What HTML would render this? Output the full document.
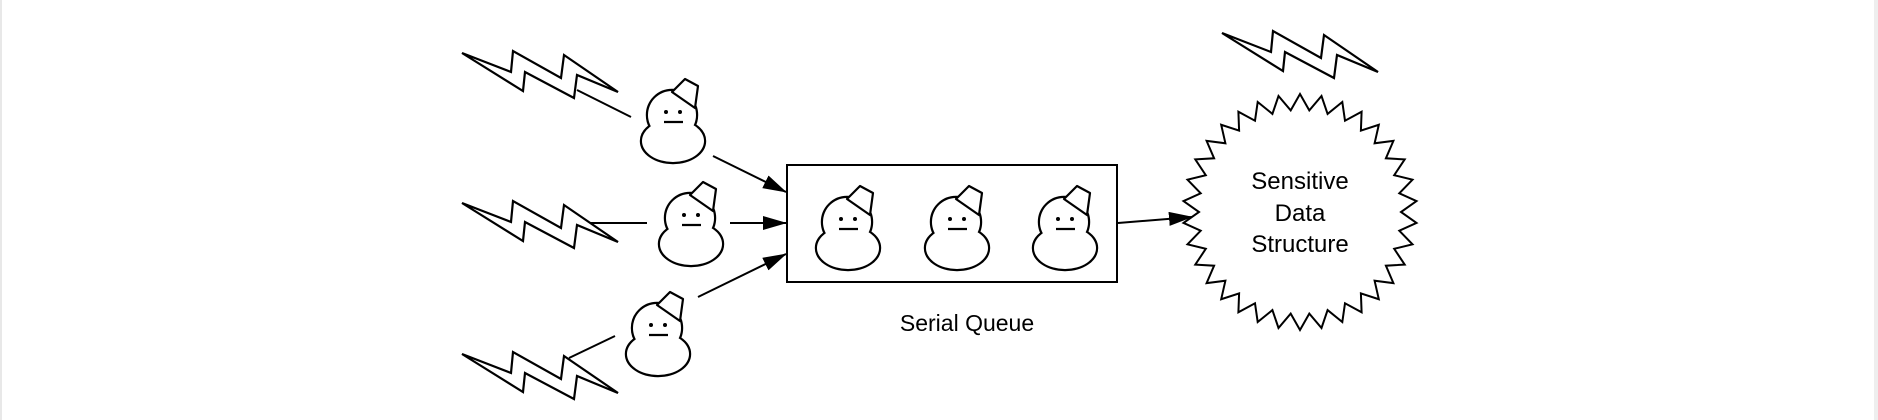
<!DOCTYPE html>
<html><head><meta charset="utf-8"><style>
html,body{margin:0;padding:0;background:#fff;}
svg{display:block;}
text{font-family:"Liberation Sans",Arial,sans-serif;fill:#000;}
</style></head><body>
<svg width="1878" height="420" viewBox="0 0 1878 420" xmlns="http://www.w3.org/2000/svg">
<defs>
<g id="sm">
  <g stroke="#000" stroke-width="4.4" fill="#fff">
    <ellipse cx="1" cy="26" rx="31" ry="21"/>
    <circle cx="0" cy="0" r="24"/>
  </g>
  <g fill="#fff" stroke="none">
    <ellipse cx="1" cy="26" rx="31" ry="21"/>
    <circle cx="0" cy="0" r="24"/>
  </g>
  <polygon points="0,-23 13,-36 26,-29 23,-7" fill="#fff" stroke="#000" stroke-width="2.2" stroke-linejoin="round"/>
  <circle cx="-6" cy="-3" r="2" fill="#000"/>
  <circle cx="8" cy="-3" r="2" fill="#000"/>
  <line x1="-8" y1="7" x2="11" y2="7" stroke="#000" stroke-width="2.2"/>
</g>
<polygon id="bolt" points="0,0 49,19 51,-2 99,25 102,2 156,39 115,22 112,45 63,19 61,38" fill="#fff" stroke="#000" stroke-width="2.2" stroke-linejoin="miter"/>
<marker id="ah" markerWidth="24" markerHeight="16" refX="23" refY="7" orient="auto" markerUnits="userSpaceOnUse">
  <polygon points="0,0 24,7 0,14" fill="#000"/>
</marker>
</defs>
<rect x="0" y="0" width="2" height="420" fill="#e8e8e8"/>
<rect x="1874" y="0" width="4" height="420" fill="#eeeeee"/>

<line x1="577" y1="90" x2="631" y2="117" stroke="#000" stroke-width="2"/>
<line x1="590" y1="223" x2="647" y2="223" stroke="#000" stroke-width="2"/>
<line x1="615" y1="336" x2="569" y2="358" stroke="#000" stroke-width="2"/>

<use href="#bolt" x="462" y="53"/>
<use href="#bolt" x="462" y="203"/>
<use href="#bolt" x="462" y="354"/>
<use href="#bolt" x="1222" y="33"/>

<use href="#sm" x="672" y="115"/>
<use href="#sm" x="690" y="218"/>
<use href="#sm" x="657" y="328"/>

<line x1="713" y1="156" x2="786" y2="192" stroke="#000" stroke-width="2" marker-end="url(#ah)"/>
<line x1="730" y1="223" x2="786" y2="223" stroke="#000" stroke-width="2" marker-end="url(#ah)"/>
<line x1="698" y1="297" x2="786" y2="254" stroke="#000" stroke-width="2" marker-end="url(#ah)"/>

<rect x="787" y="165" width="330" height="117" fill="#fff" stroke="#000" stroke-width="2"/>
<use href="#sm" x="847" y="222"/>
<use href="#sm" x="956" y="222"/>
<use href="#sm" x="1064" y="222"/>

<text x="967" y="331" font-size="23" text-anchor="middle">Serial Queue</text>

<polygon id="star" fill="#fff" stroke="#000" stroke-width="2" stroke-linejoin="miter" points="1300,94 1417,212 1300,330 1183,212"/>

<line x1="1118" y1="223" x2="1192" y2="217" stroke="#000" stroke-width="2" marker-end="url(#ah)"/>

<text x="1300" y="189" font-size="24" text-anchor="middle">Sensitive</text>
<text x="1300" y="221" font-size="24" text-anchor="middle">Data</text>
<text x="1300" y="252" font-size="24" text-anchor="middle">Structure</text>
</svg>
<script>
(function(){
  var n=34, cx=1300, cy=212, rox=117, roy=118, rix=101, riy=102, pts=[];
  for(var i=0;i<2*n;i++){
    var a=-Math.PI/2+i*Math.PI/n;
    var o=(i%2===0);
    var x=cx+(o?rox:rix)*Math.cos(a), y=cy+(o?roy:riy)*Math.sin(a);
    pts.push(x.toFixed(1)+","+y.toFixed(1));
  }
  document.getElementById("star").setAttribute("points",pts.join(" "));
})();
</script>
</body></html>
